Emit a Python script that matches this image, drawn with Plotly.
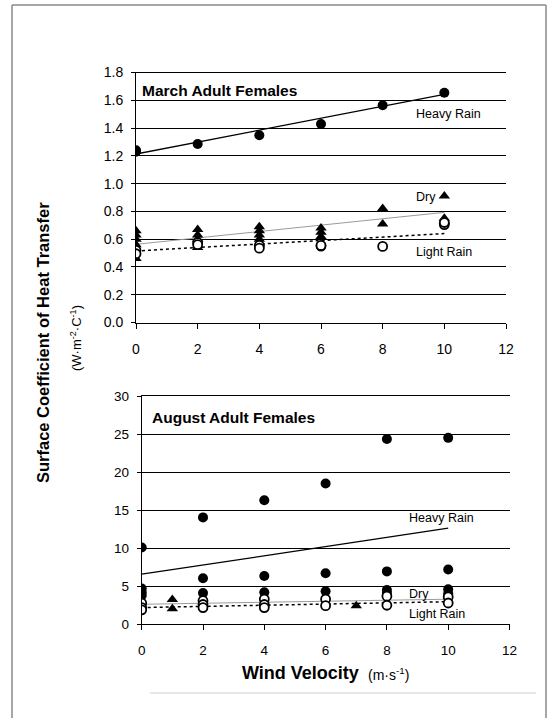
import plotly.graph_objects as go

# ---------------- data ----------------
# March Adult Females
mar_heavy_x = [0, 0, 2, 4, 6, 8, 10]
mar_heavy_y = [1.23, 1.24, 1.285, 1.348, 1.429, 1.564, 1.654]
mar_dry_x = [0, 0, 0, 0, 0, 2, 2, 2, 2, 4, 4, 4, 4, 4, 6, 6, 6, 8, 8, 10, 10, 10]
mar_dry_y = [0.66, 0.63, 0.60, 0.56, 0.46, 0.67, 0.63, 0.60, 0.54,
             0.69, 0.66, 0.63, 0.60, 0.57, 0.68, 0.65, 0.62, 0.82, 0.71,
             0.91, 0.75, 0.73]
mar_light_x = [0, 0, 2, 2, 4, 4, 6, 6, 8, 10, 10]
mar_light_y = [0.52, 0.495, 0.575, 0.56, 0.555, 0.535, 0.55, 0.555, 0.548, 0.705, 0.72]
trend_x = [0, 10]
mar_heavy_trend = [1.213, 1.643]
mar_dry_trend = [0.563, 0.793]
mar_light_trend = [0.515, 0.640]

# August Adult Females
aug_heavy_x = [0, 0, 0, 0, 2, 2, 2, 4, 4, 4, 6, 6, 6, 8, 8, 8, 8, 10, 10, 10, 10]
aug_heavy_y = [10.1, 4.7, 4.2, 3.8, 14.05, 6.05, 4.1, 16.3, 6.35, 4.2, 18.5, 6.7, 4.35,
               24.35, 6.95, 4.5, 4.1, 24.5, 7.2, 4.6, 4.05]
aug_dry_x = [1, 1, 7]
aug_dry_y = [3.25, 2.05, 2.45]
aug_light_x = [0, 0, 0, 2, 2, 2, 4, 4, 4, 6, 6, 8, 8, 10, 10]
aug_light_y = [2.8, 2.2, 1.9, 3.1, 2.6, 2.2, 3.3, 2.6, 2.2, 3.3, 2.45, 3.7, 2.5, 3.6, 2.8]
aug_heavy_trend = [6.58, 12.63]
aug_dry_trend = [2.63, 3.30]
aug_light_trend = [2.20, 2.97]

x_ticks = [0, 2, 4, 6, 8, 10, 12]

FONT = "Liberation Sans, Arial, sans-serif"
W, H = 550, 718

fig = go.Figure()


def add_panel(xa, ya, heavy_x, heavy_y, dry_x, dry_y, light_x, light_y,
              t_heavy, t_dry, t_light, msize):
    fig.add_trace(go.Scatter(x=trend_x, y=t_dry, mode="lines", xaxis=xa, yaxis=ya,
                             line=dict(color="#9a9a9a", width=1), showlegend=False))
    fig.add_trace(go.Scatter(x=trend_x, y=t_light, mode="lines", xaxis=xa, yaxis=ya,
                             line=dict(color="black", width=1.5, dash="dot"), showlegend=False))
    fig.add_trace(go.Scatter(x=trend_x, y=t_heavy, mode="lines", xaxis=xa, yaxis=ya,
                             line=dict(color="black", width=1.3), showlegend=False))
    fig.add_trace(go.Scatter(x=dry_x, y=dry_y, mode="markers", xaxis=xa, yaxis=ya,
                             marker=dict(symbol="triangle-up", size=msize, color="black",
                                         line=dict(width=0)), showlegend=False))
    fig.add_trace(go.Scatter(x=heavy_x, y=heavy_y, mode="markers", xaxis=xa, yaxis=ya,
                             marker=dict(symbol="circle", size=msize, color="black",
                                         line=dict(width=0)), showlegend=False))
    fig.add_trace(go.Scatter(x=light_x, y=light_y, mode="markers", xaxis=xa, yaxis=ya,
                             marker=dict(symbol="circle", size=msize - 1, color="white",
                                         line=dict(width=1.8, color="black")), showlegend=False))


add_panel("x", "y", mar_heavy_x, mar_heavy_y, mar_dry_x, mar_dry_y, mar_light_x, mar_light_y,
          mar_heavy_trend, mar_dry_trend, mar_light_trend, 10)
add_panel("x2", "y2", aug_heavy_x, aug_heavy_y, aug_dry_x, aug_dry_y, aug_light_x, aug_light_y,
          aug_heavy_trend, aug_dry_trend, aug_light_trend, 10)

xcommon = dict(range=[0, 12], tickvals=x_ticks, ticks="outside", ticklen=5, tickcolor="black",
               showline=True, linecolor="black", linewidth=1, mirror=True, showgrid=False,
               zeroline=False, fixedrange=True, automargin=False)
ycommon = dict(ticks="outside", ticklen=4, tickcolor="black", showline=True, linecolor="black",
               linewidth=1, showgrid=True, gridcolor="black", gridwidth=1, zeroline=False,
               fixedrange=True, automargin=False)

fig.update_layout(
    width=W, height=H, autosize=False,
    margin=dict(l=0, r=0, t=0, b=0, pad=0, autoexpand=False),
    paper_bgcolor="white", plot_bgcolor="white",
    font=dict(family=FONT, color="black"),
    hovermode=False, showlegend=False,
    xaxis=dict(domain=[136 / W, 506 / W], anchor="y", tickfont=dict(size=14),
               ticklabelstandoff=9, **xcommon),
    yaxis=dict(domain=[1 - 322.5 / H, 1 - 72.5 / H], anchor="x", range=[0, 1.8], dtick=0.2,
               tickformat=".1f", tickfont=dict(size=14), ticklabelstandoff=5, **ycommon),
    xaxis2=dict(domain=[141.7 / W, 509.5 / W], anchor="y2", tickfont=dict(size=13.5),
                ticklabelstandoff=8, **xcommon),
    yaxis2=dict(domain=[1 - 624.3 / H, 1 - 396 / H], anchor="x2", range=[0, 30], dtick=5,
                tickfont=dict(size=13.5), ticklabelstandoff=5, **ycommon),
)

ann = []
lab = dict(showarrow=False, xanchor="left", yanchor="middle")
ann += [
    dict(text="<b>March Adult Females</b>", x=0.13, y=1.669, xref="x", yref="y",
         font=dict(size=15.5), **lab),
    dict(text="Heavy Rain", x=9.0, y=1.50, xref="x", yref="y", font=dict(size=12.5), **lab),
    dict(text="Dry", x=9.0, y=0.906, xref="x", yref="y", font=dict(size=12.5), **lab),
    dict(text="Light Rain", x=9.0, y=0.505, xref="x", yref="y", font=dict(size=12.5), **lab),
    dict(text="<b>August Adult Females</b>", x=0.27, y=27.2, xref="x2", yref="y2",
         font=dict(size=15.5), **lab),
    dict(text="Heavy Rain", x=8.67, y=13.95, xref="x2", yref="y2", font=dict(size=12.5), **lab),
    dict(text="Dry", x=8.67, y=3.95, xref="x2", yref="y2", font=dict(size=12.5), **lab),
    dict(text="Light Rain", x=8.67, y=1.3, xref="x2", yref="y2", font=dict(size=12.5), **lab),
]
ann += [
    dict(text="<b>Surface Coefficient of Heat Transfer</b>", x=43 / W, y=1 - 343 / H,
         xref="paper", yref="paper", textangle=-90, showarrow=False,
         xanchor="center", yanchor="middle", font=dict(size=16.5)),
    dict(text="(W·m<sup>-2</sup>·C<sup>-1</sup>)", x=76 / W, y=1 - 338 / H,
         xref="paper", yref="paper", textangle=-90, showarrow=False,
         xanchor="center", yanchor="middle", font=dict(size=13)),
    dict(text="<b>Wind Velocity</b>", x=361 / W, y=1 - 673 / H, xref="paper", yref="paper",
         showarrow=False, xanchor="right", yanchor="middle", font=dict(size=18)),
    dict(text="(m·s<sup>-1</sup>)", x=366 / W, y=1 - 674 / H, xref="paper", yref="paper",
         showarrow=False, xanchor="left", yanchor="middle", font=dict(size=14)),
]
fig.update_layout(annotations=ann)

frame = "#8a8a8a"
shapes = [
    # page frame
    dict(type="line", xref="paper", yref="paper", x0=12 / W, x1=546 / W, y0=1 - 5 / H, y1=1 - 5 / H,
         line=dict(color=frame, width=1.5)),
    dict(type="line", xref="paper", yref="paper", x0=12 / W, x1=12 / W, y0=0, y1=1 - 5 / H,
         line=dict(color=frame, width=1.5)),
    dict(type="line", xref="paper", yref="paper", x0=546 / W, x1=546 / W, y0=0, y1=1 - 5 / H,
         line=dict(color=frame, width=1.5)),
    dict(type="line", xref="paper", yref="paper", x0=150 / W, x1=536 / W, y0=1 - 693 / H,
         y1=1 - 693 / H, line=dict(color="#cfcfcf", width=1)),
]
fig.update_layout(shapes=shapes)

fig.write_html("out.html",
               config={"displayModeBar": False, "staticPlot": True},
               post_script="document.body.style.margin='0px';"
                           "document.body.style.padding='0px';"
                           "document.body.style.overflow='hidden';")
